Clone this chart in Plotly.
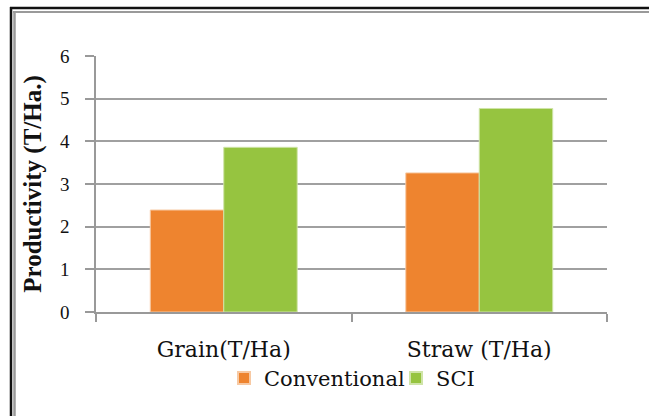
import plotly.graph_objects as go

categories = ["Grain(T/Ha)", "Straw (T/Ha)"]
conventional = [2.39, 3.26]
sci = [3.86, 4.77]
y_ticks = [0, 1, 2, 3, 4, 5, 6]

W, H = 649, 416
L, R, T, B = 96, 607, 56, 311.7

def px(x):
    return (x - L) / (R - L)

def py(y):
    return (B - y) / (B - T)

fig = go.Figure()
fig.add_trace(go.Bar(name="Conventional", x=categories, y=conventional,
                     marker=dict(color="#EE842F", line=dict(color="#F7C9A3", width=1))))
fig.add_trace(go.Bar(name="SCI", x=categories, y=sci,
                     marker=dict(color="#96C440", line=dict(color="#CFE4A8", width=1))))

shapes = [
    dict(type="line", xref="paper", yref="paper", x0=px(10), x1=px(660), y0=py(8), y1=py(8),
         line=dict(color="#111111", width=2.5)),
    dict(type="line", xref="paper", yref="paper", x0=px(11), x1=px(11), y0=py(7), y1=py(430),
         line=dict(color="#111111", width=2.5)),
    dict(type="line", xref="paper", yref="paper", x0=px(13), x1=px(660), y0=py(12), y1=py(12),
         line=dict(color="#9A9A9A", width=2)),
    dict(type="line", xref="paper", yref="paper", x0=px(14.5), x1=px(14.5), y0=py(11), y1=py(430),
         line=dict(color="#9A9A9A", width=2.5)),
]

fig.update_layout(
    width=W, height=H,
    margin=dict(l=L, r=W - R, t=T, b=H - B, pad=0),
    paper_bgcolor="white", plot_bgcolor="white",
    barmode="group", bargap=0.425, bargroupgap=0,
    showlegend=True,
    legend=dict(orientation="h", x=px(224), y=py(378), xanchor="left", yanchor="middle",
                bgcolor="rgba(0,0,0,0)",
                font=dict(family="DejaVu Serif", size=21, color="#111111"),
                itemwidth=30, tracegroupgap=0, itemsizing="constant",
                entrywidth=127, entrywidthmode="pixels"),
    shapes=shapes,
    xaxis=dict(
        type="category", range=[-0.5, 1.5],
        showline=True, linecolor="#999999", linewidth=1.5,
        ticks="outside", tickson="boundaries", ticklen=8, tickcolor="#999999", tickwidth=1.5,
        tickfont=dict(family="DejaVu Serif", size=22, color="#111111"),
        ticklabelstandoff=17,
        showgrid=False,
    ),
    yaxis=dict(
        range=[0, 6], tickvals=y_ticks, ticktext=[str(v) for v in y_ticks],
        showline=True, linecolor="#999999", linewidth=1.5,
        ticks="outside", ticklen=9, tickcolor="#999999", tickwidth=1.5,
        showgrid=True, gridcolor="#A0A0A0", gridwidth=1.5,
        zeroline=False,
        tickfont=dict(family="Liberation Serif", size=19, color="#111111"),
        ticklabelstandoff=12,
        title=dict(text="<b>Productivity (T/Ha.)</b>", standoff=11,
                   font=dict(family="Liberation Serif", size=25, color="#111111")),
    ),
)

fig.write_html("out.html", config={"displayModeBar": False},
               post_script="document.body.style.margin='0';document.body.style.padding='0';"
                           "document.body.style.overflow='hidden';")
